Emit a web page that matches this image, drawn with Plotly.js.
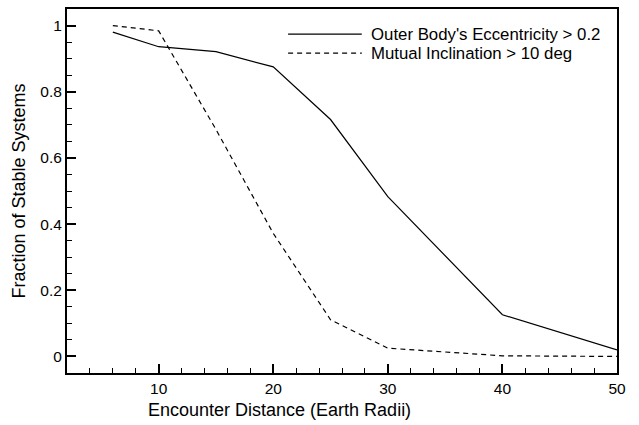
<!DOCTYPE html>
<html>
<head>
<meta charset="utf-8">
<script src="https://cdn.plot.ly/plotly-3.0.1.min.js"></script>
<style>html,body{margin:0;padding:0;background:#fff;}#chart{width:639px;height:425px;}</style>
</head>
<body>
<div id="chart"></div>
<script>
const distance = [6, 10, 15, 20, 25, 30, 40, 50];
const eccentricityStable = [0.98, 0.936, 0.921, 0.875, 0.716, 0.483, 0.126, 0.02];
const inclinationStable = [1.0, 0.984, 0.686, 0.372, 0.111, 0.025, 0.002, 0.0];
const seriesNames = ["Outer Body's Eccentricity > 0.2", "Mutual Inclination > 10 deg"];
const xTitle = "Encounter Distance (Earth Radii)";
const yTitle = "Fraction of Stable Systems";

const FONT = "Liberation Sans, Arial, Helvetica, sans-serif";

const traces = [
  {x: distance, y: eccentricityStable, name: seriesNames[0], type: 'scatter', mode: 'lines',
   line: {color: '#000', width: 1.2}},
  {x: distance, y: inclinationStable, name: seriesNames[1], type: 'scatter', mode: 'lines',
   line: {color: '#000', width: 1.2, dash: '5px,4px'}}
];

const legendY = [0.931, 0.879];
const shapes = legendY.map((yy, i) => ({
  type: 'line', xref: 'paper', yref: 'paper', x0: 0.402, x1: 0.536, y0: yy, y1: yy,
  line: {color: '#000', width: 1.2, dash: i === 1 ? '5px,4px' : 'solid'}
}));
const annotations = legendY.map((yy, i) => ({
  xref: 'paper', yref: 'paper', x: 0.549, y: yy, xanchor: 'left', yanchor: 'middle',
  text: seriesNames[i], showarrow: false, font: {family: FONT, size: 16.8, color: '#000'}
}));
annotations.push({
  xref: 'paper', yref: 'paper', x: 0.387, y: -0.102, xanchor: 'center', yanchor: 'middle',
  text: xTitle, showarrow: false, font: {family: FONT, size: 18, color: '#000'}
});

const layout = {
  width: 639, height: 425,
  margin: {l: 67, r: 22, t: 9, b: 52, pad: 0},
  paper_bgcolor: '#fff', plot_bgcolor: '#fff',
  showlegend: false,
  font: {family: FONT, size: 15, color: '#000'},
  xaxis: {
    range: [2, 50], tick0: 0, dtick: 10, ticks: 'inside', ticklen: 9, tickwidth: 2,
    tickcolor: '#000', showgrid: false, zeroline: false, showline: true, linecolor: '#000',
    linewidth: 2, mirror: true,
    minor: {dtick: 2, tick0: 0, ticks: 'inside', ticklen: 5, tickwidth: 1, tickcolor: '#000', showgrid: false},
    tickfont: {family: FONT, size: 15.5}
  },
  yaxis: {
    range: [-0.05, 1.05], tick0: 0, dtick: 0.2, ticks: 'inside', ticklen: 9, tickwidth: 2,
    tickcolor: '#000', showgrid: false, zeroline: false, showline: true, linecolor: '#000',
    linewidth: 2, mirror: true,
    minor: {dtick: 0.05, tick0: 0, ticks: 'inside', ticklen: 5, tickwidth: 1, tickcolor: '#000', showgrid: false},
    tickfont: {family: FONT, size: 15.5},
    title: {text: yTitle, font: {family: FONT, size: 18}, standoff: 10}
  },
  shapes: shapes,
  annotations: annotations
};

Plotly.newPlot('chart', traces, layout, {staticPlot: true, displayModeBar: false});
</script>
</body>
</html>
